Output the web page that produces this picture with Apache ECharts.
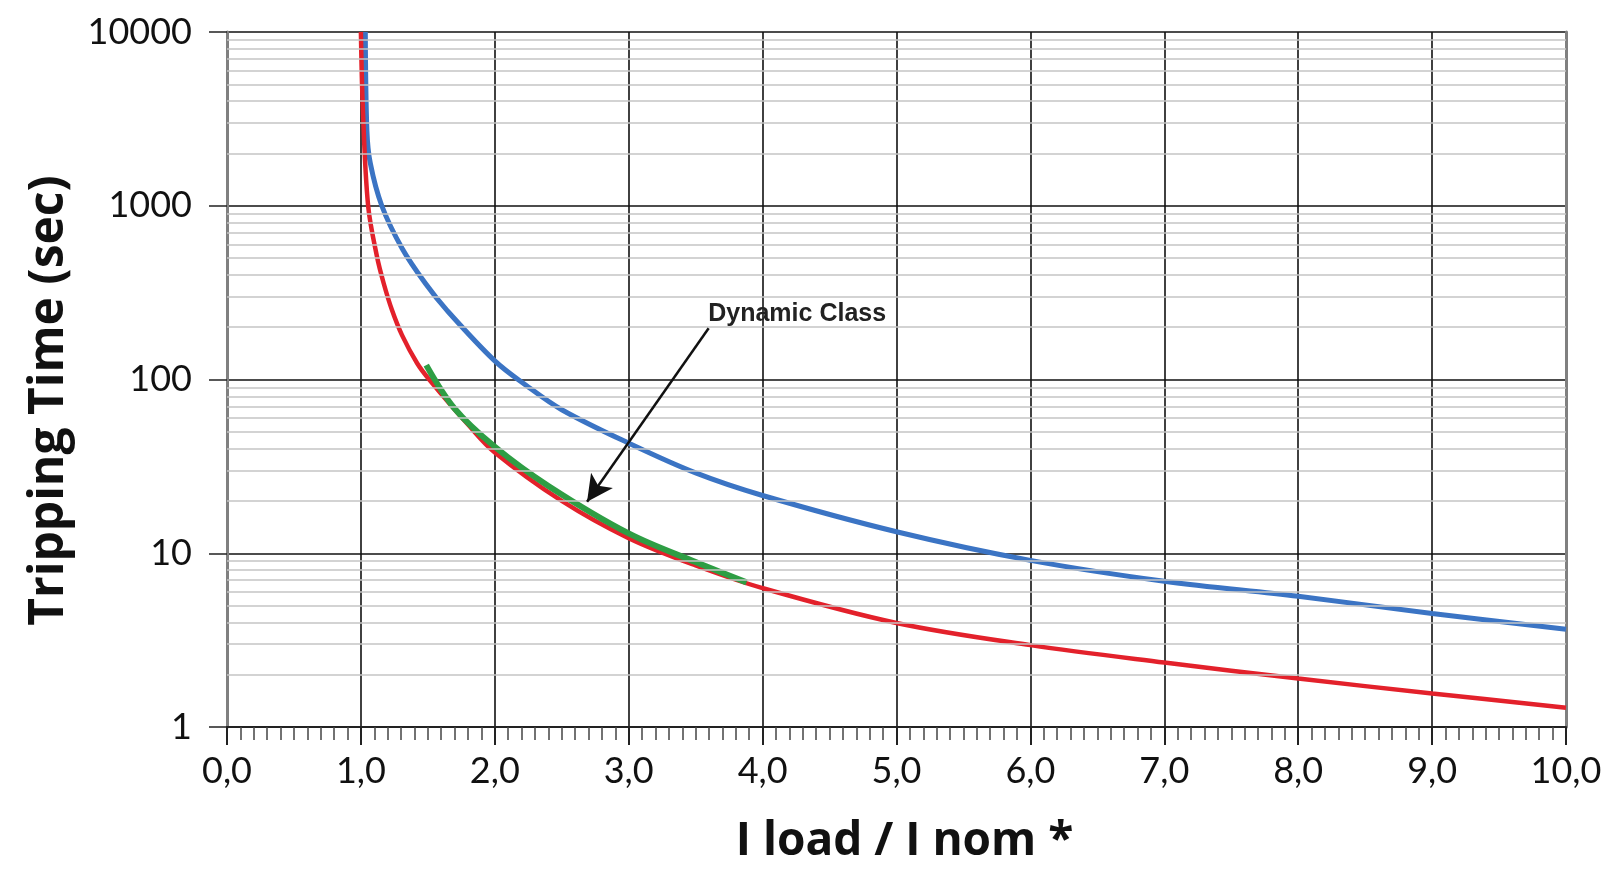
<!DOCTYPE html>
<html style="height: 100%">
<head>
  <meta charset="utf-8">
</head>
<body style="height: 100%; margin: 0; background: #fff">
  <div id="container" style="height: 100%"></div>

  <script type="text/javascript" src="https://cdn.jsdelivr.net/npm/echarts@6/dist/echarts.min.js"></script>
  <script type="text/javascript">
    // current ratio I load / I nom (x) against tripping time in seconds (y, log)
    var blueX = [1.033, 1.045, 1.07, 1.156, 1.307, 1.481, 1.643, 2.0, 2.23, 2.5, 3.0, 3.5, 4.0, 5.0, 6.0, 7.0, 8.0, 9.0, 10.0];
    var blueY = [10000, 2700, 1760, 1000, 570, 358, 250, 128, 93, 67, 43, 29, 21.5, 13.3, 9.1, 6.9, 5.65, 4.5, 3.65];

    var redX = [1.0, 1.015, 1.054, 1.12, 1.17, 1.232, 1.307, 1.42, 1.51, 1.8, 2.0, 2.5, 3.0, 3.5, 4.0, 5.0, 6.0, 7.0, 8.0, 9.0, 10.0];
    var redY = [10000, 3565, 1000, 510, 358, 251, 180, 124, 100, 55, 38, 20, 12.2, 8.5, 6.3, 3.97, 2.96, 2.35, 1.9, 1.56, 1.29];

    var greenX = [1.488, 1.7, 2.0, 2.4, 3.0, 3.5, 3.88];
    var greenY = [121, 68, 41, 24.4, 13.0, 8.9, 6.8];

    var minorLines = [2, 3, 4, 5, 6, 7, 8, 9, 20, 30, 40, 50, 60, 70, 80, 90,
      200, 300, 400, 500, 600, 700, 800, 900, 2000, 3000, 4000, 5000, 6000, 7000, 8000, 9000];

    // "Dynamic Class" arrow, from label to curve
    var arrowFrom = [3.597, 197];
    var arrowTo = [2.689, 19.8];
    var labelAt = [3.594, 238];

    function pairs(xs, ys) {
      return xs.map(function (x, i) { return [x, ys[i]]; });
    }

    var dom = document.getElementById("container");
    var myChart = echarts.init(dom);

    var option = {
      backgroundColor: '#fff',
      animation: false,
      grid: {
        left: 227,
        right: 48,
        top: 32,
        bottom: 146
      },
      xAxis: {
        type: 'value',
        min: 0,
        max: 10,
        interval: 1,
        name: 'I load / I nom *',
        nameLocation: 'middle',
        nameGap: 92,
        nameTextStyle: {
          fontFamily: 'Open Sans',
          fontWeight: 'bold',
          fontSize: 46,
          color: '#111',
          padding: [0, 0, 0, 16]
        },
        axisLine: { lineStyle: { color: '#222', width: 2 } },
        axisTick: { length: 18, lineStyle: { color: '#222', width: 2 } },
        minorTick: { show: true, splitNumber: 10, length: 13, lineStyle: { color: '#444', width: 1.5 } },
        axisLabel: {
          margin: 26,
          fontFamily: 'Lato',
          fontSize: 36,
          color: '#111',
          formatter: function (v) { return v.toFixed(1).replace('.', ','); }
        },
        splitLine: { show: true, lineStyle: { color: '#111', width: 1.6 } }
      },
      yAxis: [
        {
          type: 'log',
          logBase: 10,
          min: 1,
          max: 10000,
          name: 'Tripping Time (sec)',
          nameLocation: 'middle',
          nameGap: 154,
          nameRotate: 90,
          nameTextStyle: {
            fontFamily: 'Open Sans',
            fontWeight: 'bold',
            fontSize: 48,
            color: '#111',
            padding: [0, 42, 0, 0]
          },
          axisLine: { show: true, lineStyle: { color: '#808080', width: 3 } },
          axisTick: { show: true, length: 18, lineStyle: { color: '#222', width: 1.5 } },
          axisLabel: {
            margin: 35,
            fontFamily: 'Lato',
            fontSize: 36,
            color: '#111',
            formatter: function (v) { return String(Math.round(v)); }
          },
          splitLine: { show: true, lineStyle: { color: '#111', width: 1.6 } }
        },
        {
          type: 'log',
          logBase: 10,
          min: 1,
          max: 10000,
          position: 'right',
          axisLine: { show: true, lineStyle: { color: '#808080', width: 3 } },
          axisTick: { show: false },
          axisLabel: { show: false },
          splitLine: { show: false }
        }
      ],
      series: [
        {
          name: 'minor',
          type: 'line',
          data: [],
          z: -1,
          silent: true,
          markLine: {
            silent: true,
            symbol: ['none', 'none'],
            label: { show: false },
            lineStyle: { color: '#c4c4c4', width: 1.6, type: 'solid' },
            data: minorLines.map(function (v) { return { yAxis: v }; })
          }
        },
        {
          name: 'Blue',
          type: 'line',
          data: pairs(blueX, blueY),
          smooth: 0.35,
          showSymbol: false,
          lineStyle: { color: '#3b74c4', width: 5 }
        },
        {
          name: 'Red',
          type: 'line',
          data: pairs(redX, redY),
          smooth: 0.35,
          showSymbol: false,
          lineStyle: { color: '#e3212b', width: 4.5 }
        },
        {
          name: 'Dynamic Class',
          type: 'line',
          data: pairs(greenX, greenY),
          smooth: 0.35,
          showSymbol: false,
          lineStyle: { color: '#2e9e44', width: 6 },
          markLine: {
            silent: true,
            symbol: ['none', 'arrow'],
            symbolSize: [20, 26],
            label: { show: false },
            lineStyle: { color: '#111', width: 2.5, type: 'solid' },
            data: [[{ coord: arrowFrom }, { coord: arrowTo }]]
          },
          markPoint: {
            silent: true,
            symbolSize: 0,
            data: [{ coord: labelAt }],
            label: {
              show: true,
              position: 'inside',
              align: 'left',
              verticalAlign: 'middle',
              formatter: 'Dynamic Class',
              fontFamily: 'Liberation Sans',
              fontWeight: 'bold',
              fontSize: 25,
              color: '#222'
            }
          }
        }
      ]
    };

    myChart.setOption(option);
  </script>
</body>
</html>
